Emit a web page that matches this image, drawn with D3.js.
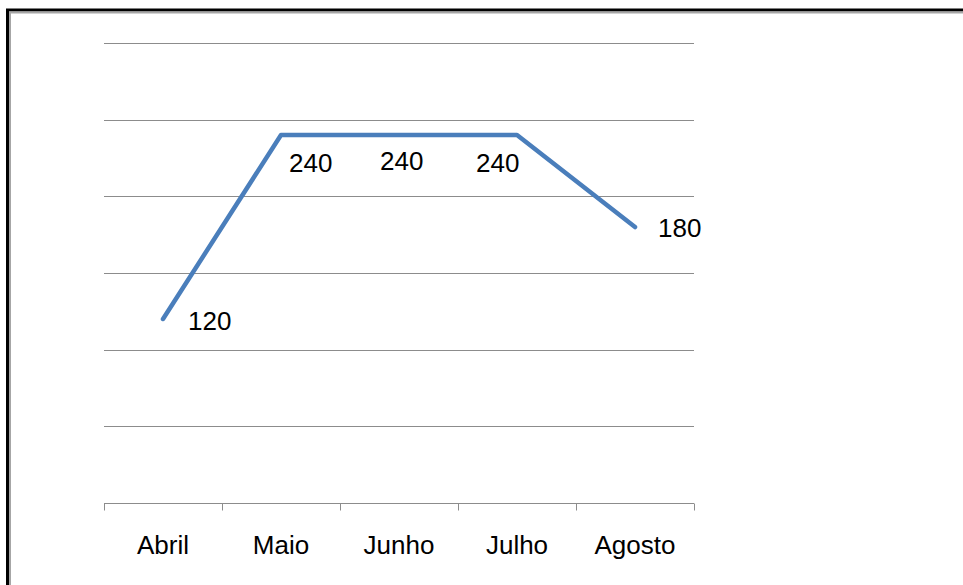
<!DOCTYPE html>
<html>
<head>
<meta charset="utf-8">
<script src="https://cdn.jsdelivr.net/npm/d3@7"></script>
<style>
  html, body { margin: 0; padding: 0; background: #fff; }
  svg { display: block; }
  text { font-family: "Liberation Sans", Arial, sans-serif; }
</style>
</head>
<body>
<svg id="chart" width="963" height="585"></svg>
<script>
const categories = ["Abril", "Maio", "Junho", "Julho", "Agosto"];
const values = [120, 240, 240, 240, 180];
const yTicks = [0, 50, 100, 150, 200, 250, 300];

const svg = d3.select("#chart");

// outer frame (continues past right and bottom edges)
svg.append("rect").attr("x", 7.5).attr("y", 10).attr("width", 1000).attr("height", 700)
  .attr("fill", "none").attr("stroke", "#000").attr("stroke-width", 3);
svg.append("rect").attr("x", 10).attr("y", 12.5).attr("width", 1000).attr("height", 700)
  .attr("fill", "none").attr("stroke", "#a6a6a6").attr("stroke-width", 2);

const plotLeft = 104, plotRight = 694, plotTop = 43, plotBottom = 503;

const x = d3.scaleBand().domain(categories).range([plotLeft, plotRight]).padding(0);
const y = d3.scaleLinear().domain([0, 300]).range([plotBottom, plotTop]);

// gridlines
svg.append("g")
  .selectAll("line")
  .data(yTicks.filter(t => t > 0))
  .join("line")
  .attr("x1", plotLeft).attr("x2", plotRight)
  .attr("y1", d => Math.round(y(d)) + 0.5).attr("y2", d => Math.round(y(d)) + 0.5)
  .attr("stroke", "#8c8c8c").attr("stroke-width", 1);

// x axis
const xAxis = svg.append("g").attr("transform", `translate(0,${plotBottom + 0.5})`);
xAxis.append("line").attr("x1", plotLeft).attr("x2", plotRight).attr("y1", 0).attr("y2", 0)
  .attr("stroke", "#8c8c8c");
const boundaries = categories.map(c => x(c)).concat([x(categories[categories.length - 1]) + x.bandwidth()]);
xAxis.selectAll("line.tick").data(boundaries).join("line").attr("class", "tick")
  .attr("x1", d => Math.round(d) + 0.5).attr("x2", d => Math.round(d) + 0.5)
  .attr("y1", 0).attr("y2", 7).attr("stroke", "#8c8c8c");
xAxis.selectAll("text").data(categories).join("text")
  .attr("x", d => x(d) + x.bandwidth() / 2)
  .attr("y", 50)
  .attr("text-anchor", "middle")
  .attr("font-size", 26)
  .attr("fill", "#000")
  .text(d => d);

// line
const pts = categories.map((c, i) => ({ c, v: values[i] }));
const line = d3.line().x(d => x(d.c) + x.bandwidth() / 2).y(d => y(d.v));
svg.append("path").datum(pts)
  .attr("d", line)
  .attr("fill", "none")
  .attr("stroke", "#4a7ebb")
  .attr("stroke-width", 4.5)
  .attr("stroke-linejoin", "round")
  .attr("stroke-linecap", "round");

// data labels (placement offsets relative to each point)
const labelOffsets = [[25, 11], [8, 37], [-19, 35], [-41, 37], [23, 10]];
svg.append("g").selectAll("text").data(pts).join("text")
  .attr("x", (d, i) => x(d.c) + x.bandwidth() / 2 + labelOffsets[i][0])
  .attr("y", (d, i) => y(d.v) + labelOffsets[i][1])
  .attr("font-size", 26)
  .attr("fill", "#000")
  .text(d => d.v);
</script>
</body>
</html>
